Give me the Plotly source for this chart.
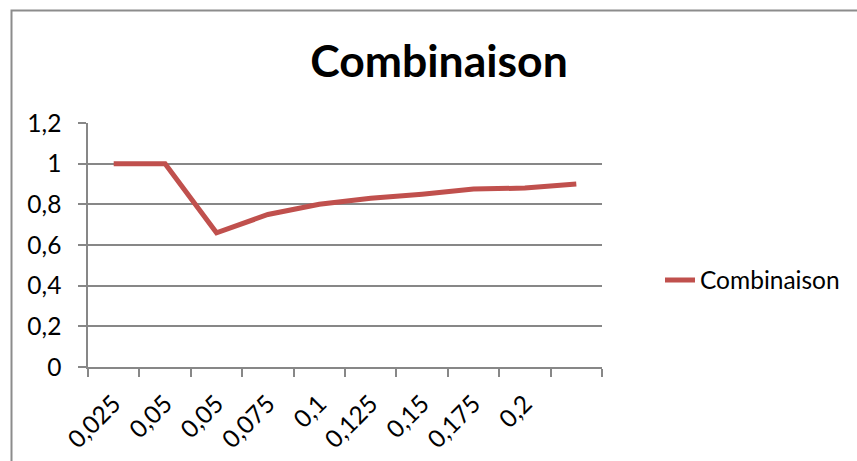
import plotly.graph_objects as go

# Category labels along the x axis (the last category carries no label)
categories = ["0,025", "0,05", "0,05", "0,075", "0,1", "0,125", "0,15", "0,175", "0,2", ""]
# Series values
combinaison = [1.0, 1.0, 0.66, 0.75, 0.80, 0.83, 0.85, 0.875, 0.88, 0.90]
series_name = "Combinaison"
y_ticks = [0, 0.2, 0.4, 0.6, 0.8, 1.0, 1.2]

positions = list(range(len(categories)))
boundaries = [p - 0.5 for p in positions] + [positions[-1] + 0.5]

FONT = "Lato"
GRID = "#878787"
LINE = "#C0504D"

fig = go.Figure()
fig.add_trace(go.Scatter(
    x=positions,
    y=combinaison,
    mode="lines",
    name=series_name,
    line=dict(color=LINE, width=5),
))

W, H = 857, 461
L, R, T, B = 88, 255, 123, 94
pw, ph = W - L - R, H - T - B

fig.update_layout(
    width=W, height=H,
    margin=dict(l=L, r=R, t=T, b=B, autoexpand=False),
    paper_bgcolor="white",
    plot_bgcolor="white",
    separators=",.",
    font=dict(family=FONT, size=24.5, color="#000000"),
    title=dict(
        text="<b>Combinaison</b>",
        font=dict(family=FONT, size=44.5, color="#000000"),
        x=439 / W, xref="container", xanchor="center",
        y=1 - 61 / H, yref="container", yanchor="middle",
    ),
    showlegend=True,
    legend=dict(
        x=(660 - L) / pw, xanchor="left",
        y=1 - (280 - T) / ph, yanchor="middle",
        bgcolor="rgba(0,0,0,0)",
        font=dict(family=FONT, size=24.5, color="#000000"),
    ),
    xaxis=dict(
        range=[-0.5, len(categories) - 0.5],
        tickmode="array",
        tickvals=positions,
        ticktext=categories,
        tickangle=-45,
        ticks="",
        showgrid=False,
        zeroline=False,
        showline=True,
        linecolor=GRID,
        linewidth=1.5,
        ticklabelstandoff=11,
        automargin=False,
        minor=dict(
            tickmode="array",
            tickvals=boundaries,
            ticks="outside",
            ticklen=8,
            tickcolor=GRID,
            tickwidth=1.5,
            showgrid=False,
        ),
        fixedrange=True,
    ),
    yaxis=dict(
        range=[0, 1.2],
        tickmode="array",
        tickvals=y_ticks,
        ticks="outside",
        ticklen=8,
        tickcolor=GRID,
        tickwidth=1.5,
        showgrid=True,
        gridcolor=GRID,
        gridwidth=1.5,
        zeroline=False,
        showline=True,
        linecolor=GRID,
        linewidth=1.5,
        ticklabelstandoff=12,
        automargin=False,
        fixedrange=True,
    ),
    shapes=[
        # outer chart frame
        dict(
            type="rect", xref="paper", yref="paper",
            x0=(11.5 - L) / pw, x1=(W + 20 - L) / pw,
            y0=-(H + 20 - (T + ph)) / ph, y1=1 + (T - 10.5) / ph,
            line=dict(color="#8C8C8C", width=2),
            fillcolor="rgba(0,0,0,0)",
            layer="below",
        )
    ],
)

fig.write_html("out.html")
